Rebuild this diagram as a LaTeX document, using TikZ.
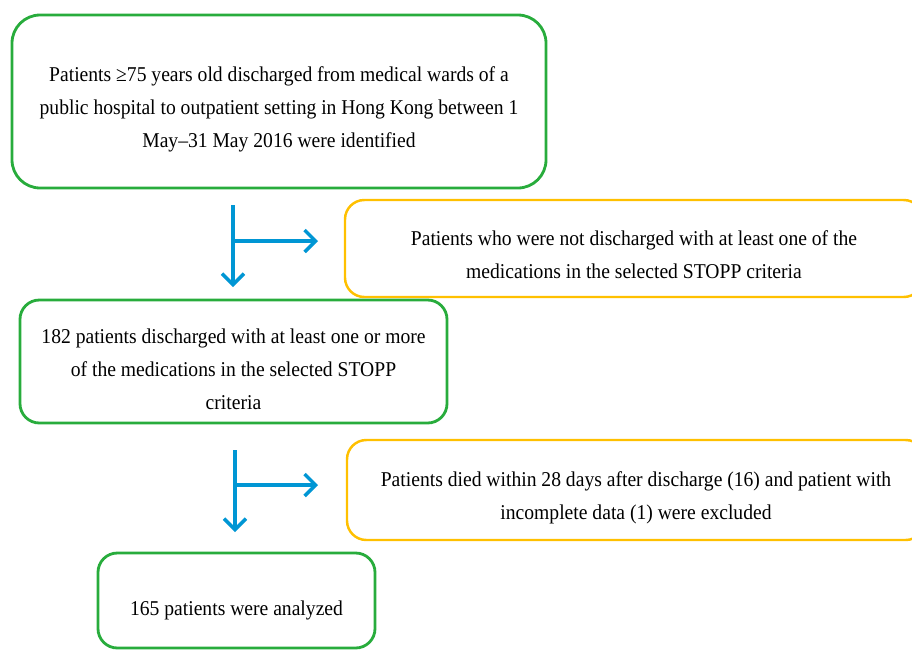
\documentclass[tikz,border=0pt]{standalone}
\usepackage{fontspec}
\setmainfont{Liberation Serif}[FakeStretch=0.93]
\usetikzlibrary{arrows.meta, positioning}

\definecolor{boxgreen}{RGB}{40,172,60}
\definecolor{boxorange}{RGB}{255,192,0}
\definecolor{flowblue}{RGB}{0,150,212}

\begin{document}
\begin{tikzpicture} [
						x=0.02cm, y=-0.02cm,
						font=\fontsize{12}{18.8}\selectfont,
						keep/.style={draw=boxgreen, line width=1.6pt, rounded corners=11pt, inner sep=0pt},
						drop/.style={draw=boxorange, line width=1.4pt, rounded corners=11pt, inner sep=0pt},
						txt/.style={align=center, inner sep=0pt, yshift=-0.16cm},
						flow/.style={draw=flowblue, line width=2pt, -{Straight Barb[length=2.2mm, width=4.4mm, line width=2pt]}}
					]

\useasboundingbox (0,0) rectangle (912,650);

% boxes
\node (start) [keep, rounded corners=16pt, minimum width=534*0.02cm, minimum height=173*0.02cm] at (279,101.5) {};
\node (notdis) [drop, minimum width=578*0.02cm, minimum height=97*0.02cm] at (634,248.5) {};
\node (stopp) [keep, minimum width=427*0.02cm, minimum height=123*0.02cm] at (233.5,361.5) {};
\node (died) [drop, minimum width=578*0.02cm, minimum height=100*0.02cm] at (636,490) {};
\node (final) [keep, minimum width=277*0.02cm, minimum height=95*0.02cm] at (236.5,600.5) {};

% texts
\node (start-txt) [txt] at (start.center)
	{Patients ≥75 years old discharged from medical wards of a\\
	 public hospital to outpatient setting in Hong Kong between 1\\
	 May–31 May 2016 were identified};
\node (notdis-txt) [txt, yshift=0.04cm] at (notdis.center)
	{Patients who were not discharged with at least one of the\\
	 medications in the selected STOPP criteria};
\node (stopp-txt) [txt] at (stopp.center)
	{182 patients discharged with at least one or more\\
	 of the medications in the selected STOPP\\
	 criteria};
\node (died-txt) [txt] at (died.center)
	{Patients died within 28 days after discharge (16) and patient with\\
	 incomplete data (1) were excluded};
\node (final-txt) [txt, yshift=-0.04cm] at (final.center)
	{165 patients were analyzed};

% first split
\coordinate (a1) at (233,205);
\coordinate (a2) at (233,287);
\coordinate (a3) at (233,241);
\coordinate (a4) at (318,241);
% second split
\coordinate (b1) at (235,450);
\coordinate (b2) at (235,532);
\coordinate (b3) at (235,485);
\coordinate (b4) at (318,485);

\draw[flow] (a1) -- (a2);
\draw[flow] (a3) -- (a4);
\draw[flow] (b1) -- (b2);
\draw[flow] (b3) -- (b4);
\end{tikzpicture}
\end{document}
